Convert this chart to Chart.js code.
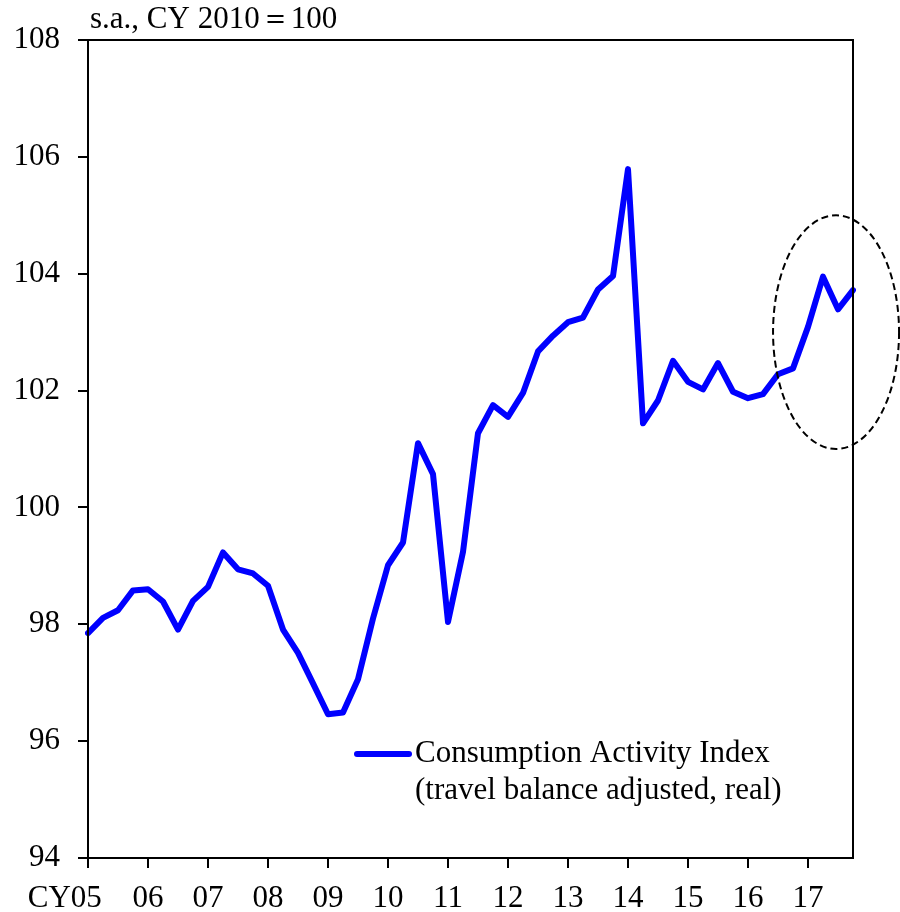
<!DOCTYPE html>
<html>
<head>
<meta charset="utf-8">
<script src="https://cdn.jsdelivr.net/npm/chart.js@4/dist/chart.umd.min.js"></script>
<style>
  html, body { margin: 0; padding: 0; background: #fff; }
  #wrap { width: 900px; height: 912px; }
</style>
</head>
<body>
<div id="wrap"><canvas id="myChart" width="900" height="912"></canvas></div>
<script>
var quarters = [
    "2005Q1", "2005Q2", "2005Q3", "2005Q4", "2006Q1", "2006Q2", "2006Q3", "2006Q4",
    "2007Q1", "2007Q2", "2007Q3", "2007Q4", "2008Q1", "2008Q2", "2008Q3", "2008Q4",
    "2009Q1", "2009Q2", "2009Q3", "2009Q4", "2010Q1", "2010Q2", "2010Q3", "2010Q4",
    "2011Q1", "2011Q2", "2011Q3", "2011Q4", "2012Q1", "2012Q2", "2012Q3", "2012Q4",
    "2013Q1", "2013Q2", "2013Q3", "2013Q4", "2014Q1", "2014Q2", "2014Q3", "2014Q4",
    "2015Q1", "2015Q2", "2015Q3", "2015Q4", "2016Q1", "2016Q2", "2016Q3", "2016Q4",
    "2017Q1", "2017Q2", "2017Q3", "2017Q4",
];
var yearLabels = ["CY05", "06", "07", "08", "09", "10", "11", "12", "13", "14", "15", "16", "17"];
var consumption = [
    97.85, 98.11, 98.24, 98.58, 98.60, 98.39, 97.91, 98.40,
    98.64, 99.23, 98.94, 98.87, 98.66, 97.91, 97.51, 96.99,
    96.46, 96.49, 97.06, 98.10, 99.01, 99.40, 101.10, 100.57,
    98.04, 99.24, 101.27, 101.75, 101.55, 101.96, 102.67, 102.94,
    103.17, 103.25, 103.73, 103.96, 105.79, 101.44, 101.83, 102.51,
    102.15, 102.02, 102.47, 101.98, 101.87, 101.94, 102.28, 102.38,
    103.09, 103.95, 103.39, 103.72,
];
var seriesLabel = ["Consumption Activity Index", "(travel balance adjusted, real)"];
var unitText = "s.a., CY 2010\uFF1D100";

var FONT = "'Liberation Serif', 'Times New Roman', serif";

// box around the plot, title, legend and the dashed circle
var extras = {
    id: "extras",
    afterDraw: function (chart) {
        var c = chart.ctx;
        var a = chart.chartArea;
        var x = chart.scales.x;
        var y = chart.scales.y;
        c.save();
        c.strokeStyle = "#000";
        c.lineWidth = 2;
        c.strokeRect(a.left, a.top, a.right - a.left, a.bottom - a.top);

        c.fillStyle = "#000";
        c.font = "31px " + FONT;
        c.textAlign = "left";
        c.textBaseline = "alphabetic";
        c.fillText(unitText, 90, 28);

        // legend
        c.strokeStyle = "#0000ff";
        c.lineWidth = 6;
        c.lineCap = "round";
        c.beginPath();
        c.moveTo(357, 754);
        c.lineTo(409, 754);
        c.stroke();
        c.textBaseline = "middle";
        c.fillText(seriesLabel[0], 415, 754);
        c.fillText(seriesLabel[1], 415, 791);

        // dashed ellipse around the latest quarters
        var cx = x.getPixelForValue(49.87);
        var rx = x.getPixelForValue(49.87) - x.getPixelForValue(45.67);
        var cy = y.getPixelForValue(103);
        var ry = y.getPixelForValue(101) - cy;
        c.strokeStyle = "#000";
        c.lineWidth = 2;
        c.lineCap = "butt";
        c.setLineDash([7, 4]);
        c.beginPath();
        c.ellipse(cx, cy, rx, ry, 0, 0, Math.PI * 2);
        c.stroke();
        c.restore();
    },
};

var ctx = document.getElementById("myChart").getContext("2d");
var myChart = new Chart(ctx, {
    type: "line",
    data: {
        labels: quarters,
        datasets: [
            {
                label: seriesLabel.join(" "),
                data: consumption,
                borderColor: "#0000ff",
                borderWidth: 6,
                pointRadius: 0,
                tension: 0,
                borderJoinStyle: "round",
                borderCapStyle: "round",
            },
        ],
    },
    options: {
        responsive: false,
        animation: false,
        layout: { padding: { top: 40, right: 47, left: 0, bottom: 0 } },
        plugins: {
            legend: { display: false },
            tooltip: { enabled: false },
        },
        scales: {
            x: {
                offset: false,
                border: { color: "#000", width: 2 },
                grid: {
                    drawOnChartArea: false,
                    drawTicks: true,
                    tickLength: 10,
                    lineWidth: 2,
                    color: function (c) {
                        return c.index % 4 === 0 ? "#000" : "rgba(0,0,0,0)";
                    },
                },
                ticks: {
                    autoSkip: false,
                    maxRotation: 0,
                    padding: 12,
                    color: "#000",
                    font: { family: FONT, size: 31 },
                    callback: function (v, i) {
                        if (i % 4 !== 0) return "";
                        // first label sits left of its tick, as in the source
                        return i === 0 ? yearLabels[0] + "      " : yearLabels[i / 4];
                    },
                },
                afterFit: function (s) { s.height = 54; },
            },
            y: {
                min: 94,
                max: 108,
                border: { color: "#000", width: 2 },
                grid: {
                    drawOnChartArea: false,
                    drawTicks: true,
                    tickLength: 10,
                    lineWidth: 2,
                    color: "#000",
                },
                ticks: {
                    stepSize: 2,
                    padding: 18,
                    color: "#000",
                    font: { family: FONT, size: 31 },
                },
                afterFit: function (s) { s.width = 88; },
            },
        },
    },
    plugins: [extras],
});
</script>
</body>
</html>
